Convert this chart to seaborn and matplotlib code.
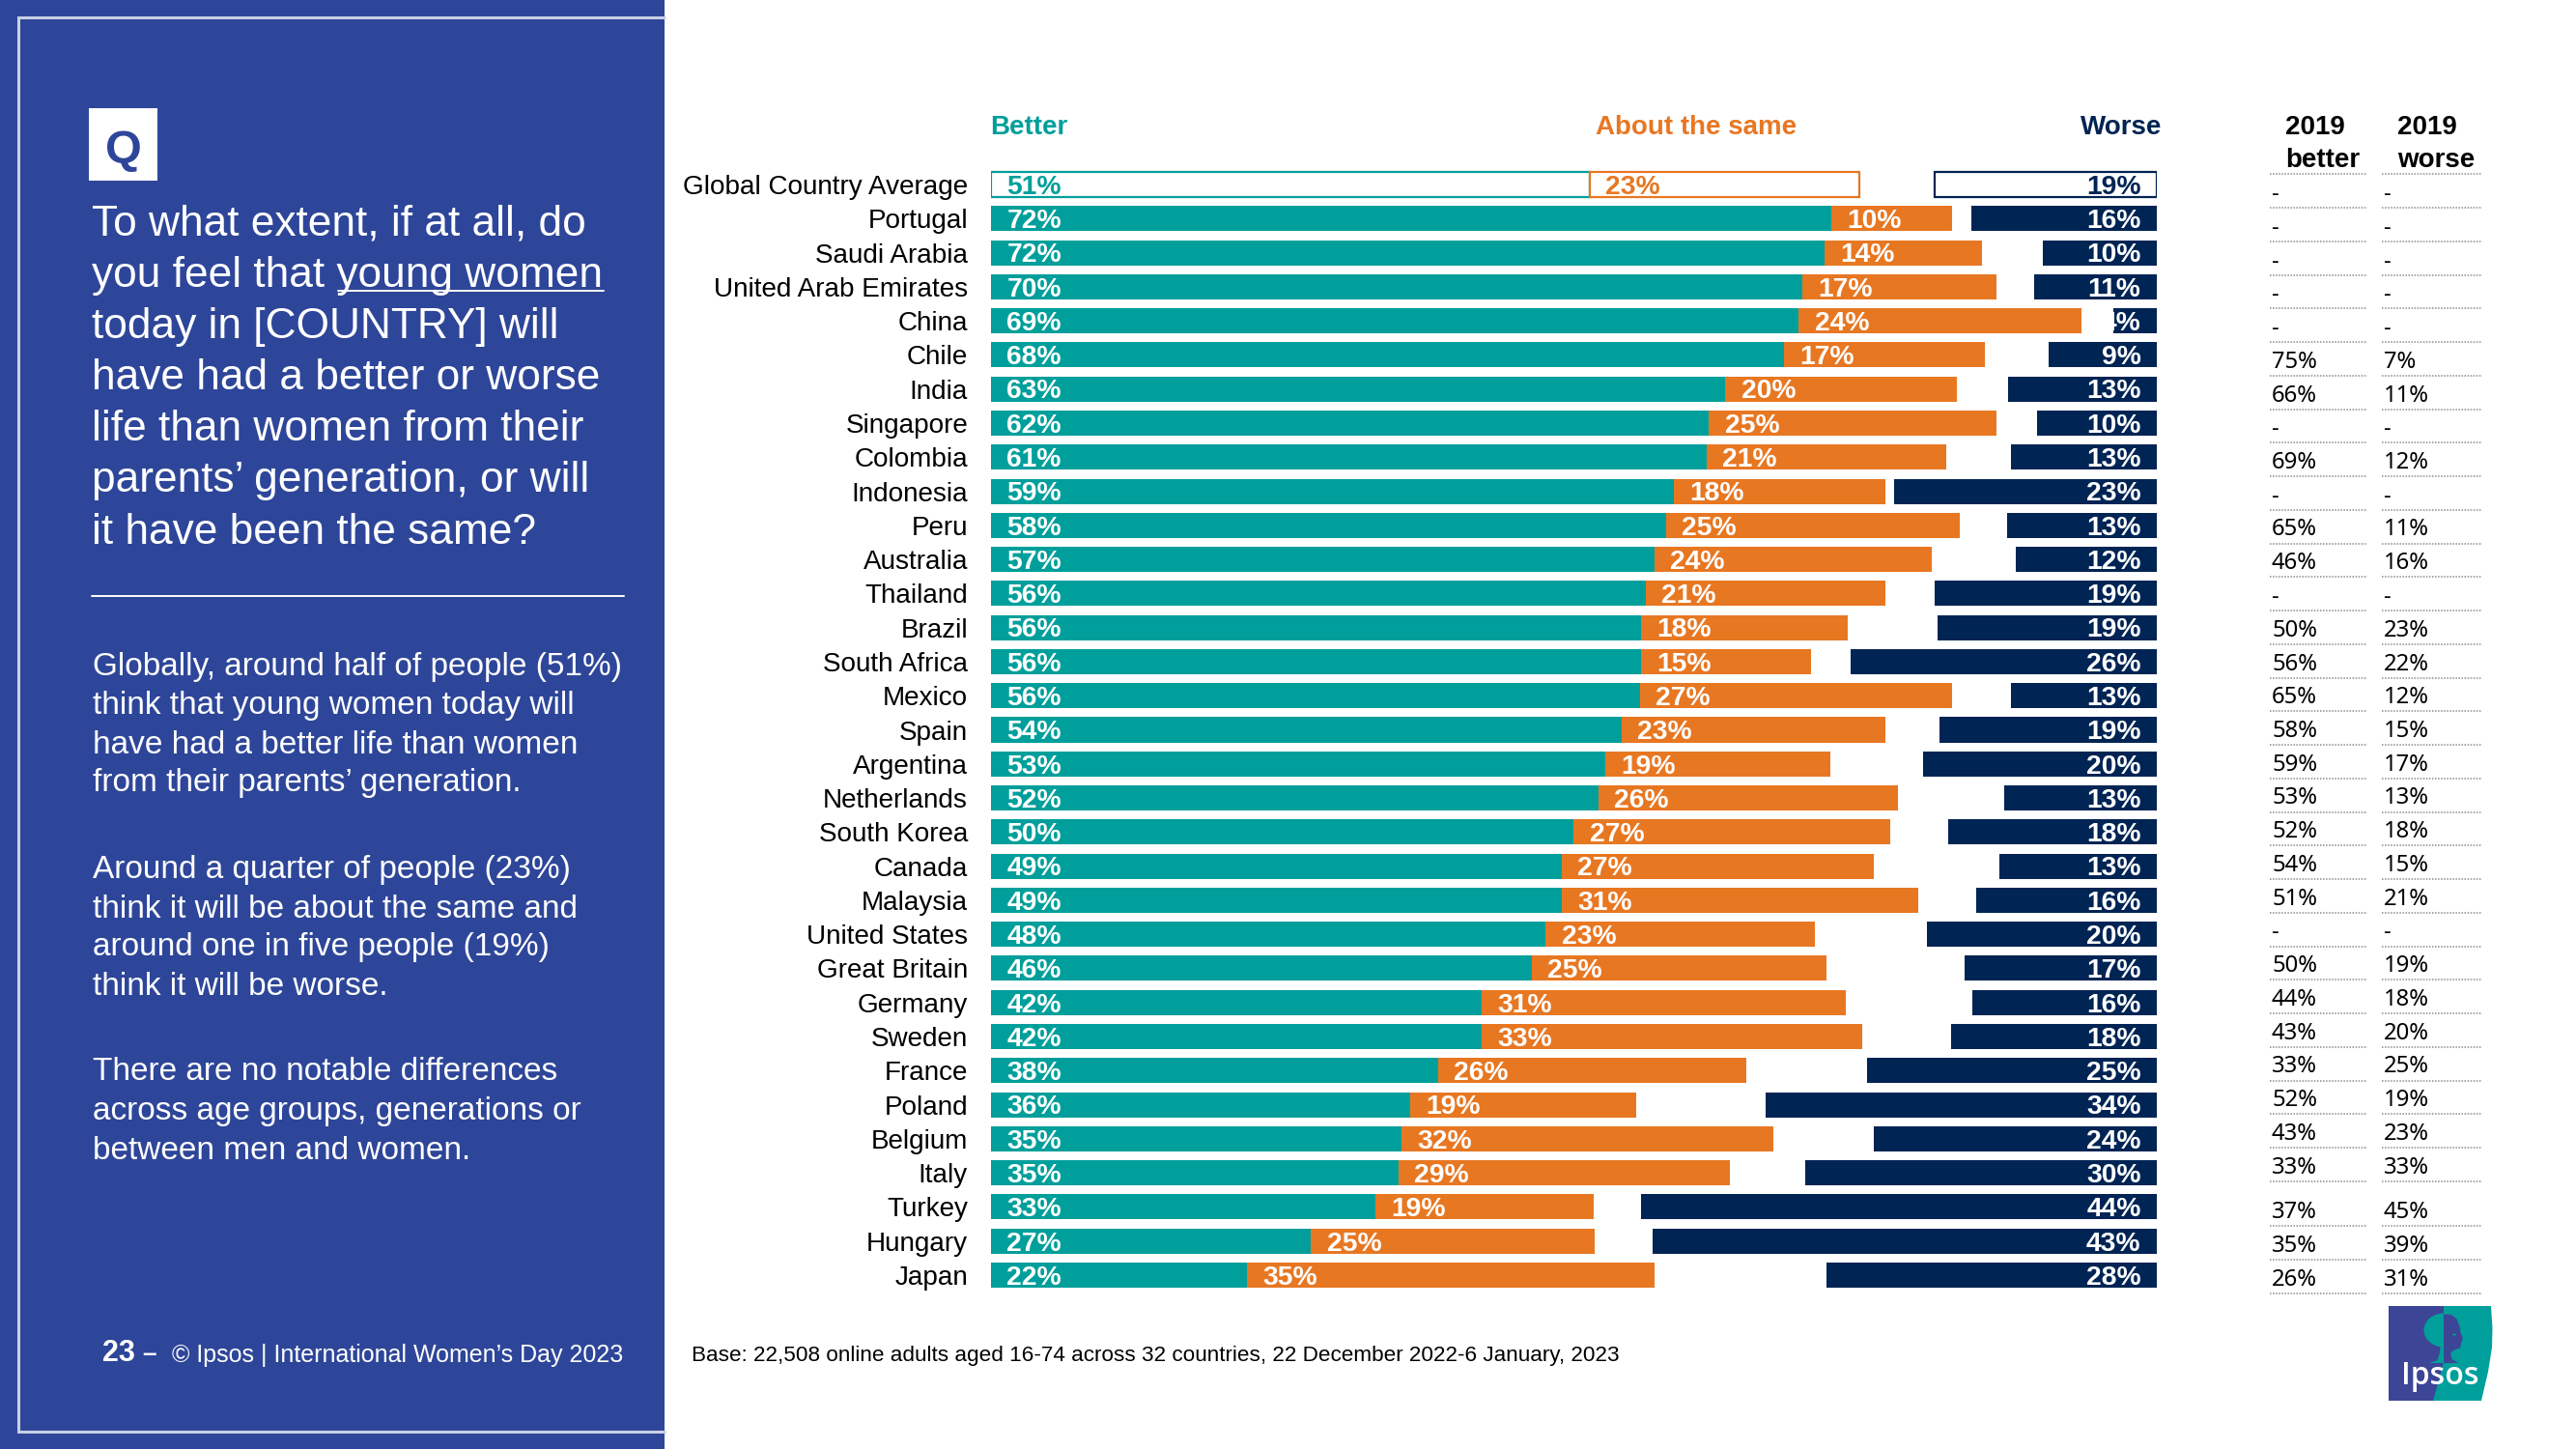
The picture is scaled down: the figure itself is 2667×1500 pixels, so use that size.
import pandas as pd
import matplotlib.pyplot as plt
import seaborn as sns
from matplotlib.patches import Ellipse, Polygon, Rectangle

# Данные: ширины сегментов, подписи — отдельно
countries = ['Global Country Average', 'Portugal', 'Saudi Arabia', 'United Arab Emirates', 'China', 'Chile',
             'India', 'Singapore', 'Colombia', 'Indonesia', 'Peru', 'Australia', 'Thailand', 'Brazil',
             'South Africa', 'Mexico', 'Spain', 'Argentina', 'Netherlands', 'South Korea', 'Canada',
             'Malaysia', 'United States', 'Great Britain', 'Germany', 'Sweden', 'France', 'Poland',
             'Belgium', 'Italy', 'Turkey', 'Hungary', 'Japan']
better = [51.3, 72.0, 71.4, 69.5, 69.2, 67.9, 62.9, 61.5, 61.3, 58.5, 57.8, 56.8, 56.1, 55.7, 55.7, 55.6, 54.0,
          52.6, 52.0, 49.9, 48.9, 48.9, 47.5, 46.3, 42.0, 42.0, 38.3, 35.9, 35.2, 34.9, 32.9, 27.4, 21.9]
same = [23.1, 10.3, 13.5, 16.6, 24.2, 17.2, 19.8, 24.6, 20.5, 18.1, 25.2, 23.8, 20.5, 17.7, 14.5, 26.7, 22.6,
        19.3, 25.7, 27.1, 26.7, 30.5, 23.1, 25.3, 31.2, 32.6, 26.4, 19.4, 31.8, 28.4, 18.7, 24.3, 34.9]
worse = [19.0, 15.9, 9.8, 10.5, 3.7, 9.3, 12.7, 10.3, 12.5, 22.5, 12.8, 12.1, 19.0, 18.8, 26.2, 12.5, 18.6,
         20.0, 13.1, 17.9, 13.5, 15.5, 19.7, 16.5, 15.8, 17.6, 24.8, 33.5, 24.2, 30.1, 44.2, 43.2, 28.3]
better_labels = [51, 72, 72, 70, 69, 68, 63, 62, 61, 59, 58, 57, 56, 56, 56, 56, 54,
                 53, 52, 50, 49, 49, 48, 46, 42, 42, 38, 36, 35, 35, 33, 27, 22]
same_labels = [23, 10, 14, 17, 24, 17, 20, 25, 21, 18, 25, 24, 21, 18, 15, 27, 23,
               19, 26, 27, 27, 31, 23, 25, 31, 33, 26, 19, 32, 29, 19, 25, 35]
worse_labels = [19, 16, 10, 11, 4, 9, 13, 10, 13, 23, 13, 12, 19, 19, 26, 13, 19,
                20, 13, 18, 13, 16, 20, 17, 16, 18, 25, 34, 24, 30, 44, 43, 28]
better_2019 = ['-', '-', '-', '-', '-', '75%', '66%', '-', '69%', '-', '65%', '46%', '-', '50%', '56%', '65%', '58%',
               '59%', '53%', '52%', '54%', '51%', '-', '50%', '44%', '43%', '33%', '52%', '43%', '33%', '37%', '35%', '26%']
worse_2019 = ['-', '-', '-', '-', '-', '7%', '11%', '-', '12%', '-', '11%', '16%', '-', '23%', '22%', '12%', '15%',
              '17%', '13%', '18%', '15%', '21%', '-', '19%', '18%', '20%', '25%', '19%', '23%', '33%', '45%', '39%', '31%']

TEAL = '#009F9B'
ORANGE = '#E87722'
NAVY = '#002454'
PANEL = '#2E4699'
AXIS_END = 99.86

sns.set_theme(style='white')
plt.rcParams['font.family'] = ['Liberation Sans', 'DejaVu Sans']

df = pd.DataFrame({'country': countries, 'better': better, 'same': same, 'worse': worse})
df['same_left'] = df['better']
df['worse_left'] = AXIS_END - df['worse']

fig = plt.figure(figsize=(13.335, 7.5), dpi=200, facecolor='white')

# Фон и оформление в пикселях
bg = fig.add_axes([0, 0, 1, 1], zorder=0)
bg.set_xlim(0, 2667)
bg.set_ylim(1500, 0)
bg.axis('off')

bg.add_patch(Rectangle((0, 0), 688, 1500, facecolor=PANEL, edgecolor='none'))
bg.plot([688, 19, 19, 688], [18, 18, 1482, 1482], color='#C9CFE6', lw=1.1, solid_joinstyle='miter')
bg.add_patch(Rectangle((92, 112), 71, 75, facecolor='white', edgecolor='none'))
bg.text(128, 157, 'Q', color=PANEL, fontsize=17.5, fontweight='bold', ha='center', va='center')

question = ['To what extent, if at all, do', 'you feel that young women', 'today in [COUNTRY] will',
            'have had a better or worse', 'life than women from their',
            'parents\u2019 generation, or will', 'it have been the same?']
for i, line in enumerate(question):
    bg.text(95, 232 + i * 53.2, line, color='white', fontsize=15.95, ha='left', va='center')
bg.plot([349.5, 625], [301, 301], color='white', lw=0.7)
bg.plot([95, 646], [617, 617], color='white', lw=0.7)

body = [(691, 'Globally, around half of people (51%)'), (731, 'think that young women today will'),
        (771, 'have had a better life than women'), (811, 'from their parents\u2019 generation.'),
        (901, 'Around a quarter of people (23%)'), (941, 'think it will be about the same and'),
        (981, 'around one in five people (19%)'), (1021, 'think it will be worse.'),
        (1110, 'There are no notable differences'), (1150, 'across age groups, generations or'),
        (1191, 'between men and women.')]
for y, line in body:
    bg.text(96, y, line, color='white', fontsize=12.02, ha='left', va='center')

bg.text(106, 1401, '23', color='white', fontsize=11, fontweight='bold', ha='left', va='center')
bg.text(147, 1402, '\u2013', color='white', fontsize=9.5, fontweight='bold', ha='left', va='center')
bg.text(178, 1403, '\u00a9 Ipsos | International Women\u2019s Day 2023', color='white', fontsize=9.03, ha='left', va='center')
bg.text(716, 1404, 'Base: 22,508 online adults aged 16-74 across 32 countries, 22 December 2022-6 January, 2023',
        color='black', fontsize=8.1, ha='left', va='center')

# Заголовки колонок
bg.text(1025, 132, 'Better', color=TEAL, fontsize=10, fontweight='bold', ha='left', va='center')
bg.text(1652, 132, 'About the same', color=ORANGE, fontsize=10, fontweight='bold', ha='left', va='center')
bg.text(2238, 132, 'Worse', color=NAVY, fontsize=10, fontweight='bold', ha='right', va='center')
bg.text(2366, 132, '2019', color='black', fontsize=10, fontweight='bold', ha='left', va='center')
bg.text(2366, 166, 'better', color='black', fontsize=10, fontweight='bold', ha='left', va='center')
bg.text(2482, 132, '2019', color='black', fontsize=10, fontweight='bold', ha='left', va='center')
bg.text(2482, 166, 'worse', color='black', fontsize=10, fontweight='bold', ha='left', va='center')

# Таблица 2019 (перед Turkey строка выше остальных)
DOTS = dict(color='#8C8C8C', lw=0.55, ls=(0, (1, 1)))
bg.plot([2350, 2451], [180, 180], **DOTS)
bg.plot([2466, 2570], [180, 180], **DOTS)
for i in range(len(countries)):
    rule_y = 215 + i * 34.75 + (11.8 if i >= 30 else 0)
    bg.plot([2350, 2451], [rule_y, rule_y], **DOTS)
    bg.plot([2466, 2570], [rule_y, rule_y], **DOTS)
    bg.text(2352, rule_y - 14, better_2019[i], color='black', fontsize=8.6,
            family='Noto Sans', ha='left', va='center')
    bg.text(2468, rule_y - 14, worse_2019[i], color='black', fontsize=8.6,
            family='Noto Sans', ha='left', va='center')

# Логотип
LOGO_BLUE = '#3C4596'
bg.add_patch(Rectangle((2473, 1352), 60, 98, facecolor=LOGO_BLUE, edgecolor='none'))
bg.add_patch(Polygon([(2530, 1352), (2579, 1352), (2580.5, 1375), (2580, 1395), (2576, 1420), (2569, 1450), (2519, 1450),
                      (2526, 1425), (2530, 1410)], facecolor=TEAL, edgecolor='none'))
bg.add_patch(Ellipse((2530, 1377), 41, 35, facecolor=TEAL, edgecolor='none'))
bg.add_patch(Polygon([(2515, 1411), (2523.3, 1408.3), (2526, 1400), (2526.7, 1393.3), (2530, 1393.3), (2530, 1411)],
                     facecolor=TEAL, edgecolor='none'))
bg.add_patch(Polygon([(2530, 1360.7), (2537.3, 1360.7), (2543.3, 1365), (2546.7, 1373.3), (2547.3, 1379.3), (2550, 1385),
                      (2548, 1390), (2547.3, 1395), (2541.7, 1397.3), (2537.3, 1400), (2538.3, 1406.7), (2545, 1411),
                      (2530, 1411)], facecolor=LOGO_BLUE, edgecolor='none'))
bg.add_patch(Ellipse((2541, 1381.7), 4, 1.6, facecolor=TEAL, edgecolor='none'))
bg.text(2526, 1433, 'Ipsos', color='white', fontsize=11.5, family='Open Sans', fontweight='semibold', ha='center', va='baseline')

# Сами столбцы
ax = fig.add_axes([1026 / 2667, 1 - 1337.65 / 1500, (2233 - 1026) / 2667, (1337.65 - 173.35) / 1500], zorder=1)
ax.patch.set_alpha(0)
BAR_H = 0.737
sns.barplot(data=df, x='better', y='country', color=TEAL, width=BAR_H, saturation=1, linewidth=0, ax=ax)
sns.barplot(data=df, x='same', y='country', color=ORANGE, width=BAR_H, saturation=1, linewidth=0, ax=ax,
            left=df['same_left'].values)
sns.barplot(data=df, x='worse', y='country', color=NAVY, width=BAR_H, saturation=1, linewidth=0, ax=ax,
            left=df['worse_left'].values)

ax.set_xlim(0, AXIS_END)
ax.set_ylim(len(countries) - 0.5, -0.5)
ax.set_xlabel('')
ax.set_ylabel('')
ax.set_xticks([])
sns.despine(ax=ax, left=True, bottom=True)
ax.tick_params(axis='y', length=0, pad=8.6, labelsize=10.03, labelcolor='black')

# Первая строка — контурная
for container, colour in zip(ax.containers, [TEAL, ORANGE, NAVY]):
    bar = container[0]
    bar.set_facecolor('white')
    bar.set_edgecolor(colour)
    bar.set_linewidth(0.8)

OFFSET = 5.9
DROP = -1.0
for i in range(len(countries)):
    colours = [TEAL, ORANGE, NAVY] if i == 0 else ['white', 'white', 'white']
    ax.annotate(f'{better_labels[i]}%', (0, i), xytext=(OFFSET, DROP), textcoords='offset points',
                color=colours[0], fontsize=10.2, fontweight='bold', ha='left', va='center')
    ax.annotate(f'{same_labels[i]}%', (better[i], i), xytext=(OFFSET, DROP), textcoords='offset points',
                color=colours[1], fontsize=10.2, fontweight='bold', ha='left', va='center')
    ax.annotate(f'{worse_labels[i]}%', (AXIS_END, i), xytext=(-OFFSET, DROP), textcoords='offset points',
                color=colours[2], fontsize=10.2, fontweight='bold', ha='right', va='center')

fig.savefig('out.png', dpi=200)
plt.close(fig)
